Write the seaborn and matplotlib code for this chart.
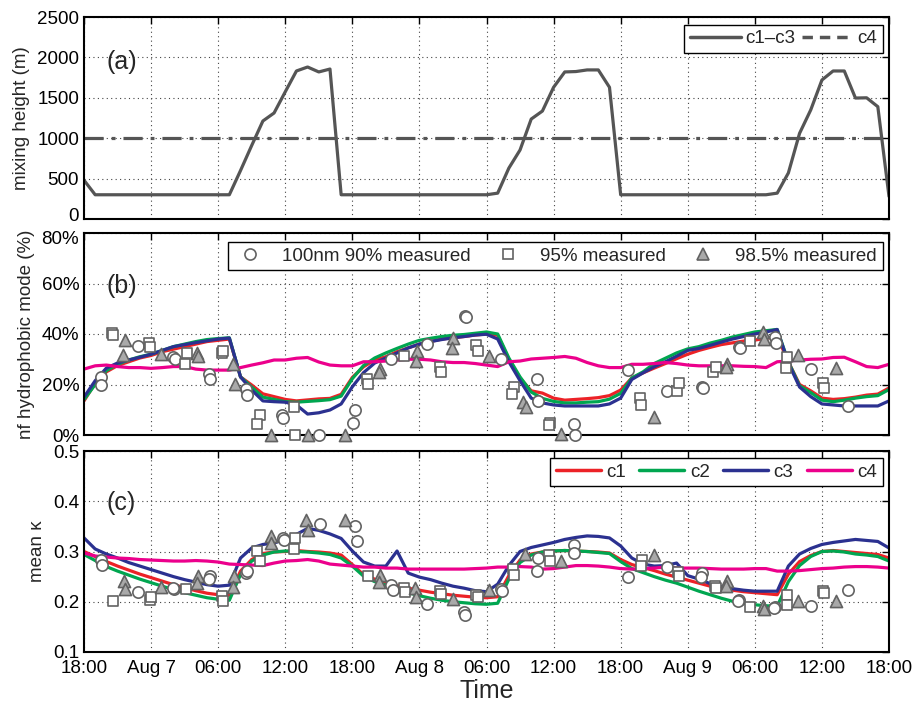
import numpy as np
import pandas as pd
import matplotlib
matplotlib.use("Agg")
import matplotlib.pyplot as plt
import matplotlib.transforms as mtransforms
from matplotlib.lines import Line2D
import seaborn as sns

# ---------------- data ----------------
hours = list(range(73))  # hours since 18:00 Aug 6
tick_hours = [0, 6, 12, 18, 24, 30, 36, 42, 48, 54, 60, 66, 72]
tick_labels = ["18:00", "Aug 7", "06:00", "12:00", "18:00", "Aug 8", "06:00",
               "12:00", "18:00", "Aug 9", "06:00", "12:00", "18:00"]

mixing_height = [480, 300, 300, 300, 300, 300, 300, 300, 300, 300,
                 300, 300, 300, 300, 600, 910, 1213, 1312, 1574, 1832,
                 1881, 1820, 1856, 300, 300, 300, 300, 300, 300, 300,
                 300, 300, 300, 300, 300, 300, 300, 320, 630, 854,
                 1237, 1336, 1630, 1820, 1825, 1845, 1845, 1630, 300, 300,
                 300, 300, 300, 300, 300, 300, 300, 300, 300, 300,
                 300, 300, 320, 570, 1060, 1350, 1720, 1832, 1832, 1497,
                 1500, 1390, 280]
mixing_height_c4 = 1000

nf_c1 = [13.5, 20.5, 25.0, 27.5, 29.0, 30.5, 31.5, 33.0, 34.0, 35.0,
         36.0, 37.0, 37.5, 38.0, 23.0, 19.8, 16.3, 15.2, 14.1, 13.5,
         13.9, 14.3, 14.5, 16.1, 22.8, 27.0, 29.7, 31.0, 33.0, 34.5,
         36.0, 37.0, 38.0, 38.5, 39.0, 39.6, 40.0, 39.5, 30.0, 22.5,
         17.5, 16.6, 14.6, 13.8, 14.1, 14.4, 14.8, 15.6, 17.8, 22.6,
         24.6, 26.5, 28.3, 30.2, 32.0, 33.5, 34.7, 35.8, 36.5, 37.2,
         37.6, 38.3, 39.0, 29.0, 20.0, 17.5, 14.6, 14.1, 14.4, 15.0,
         15.8, 16.2, 18.6]
nf_c2 = [14.0, 20.0, 25.5, 28.0, 29.7, 31.0, 32.0, 33.5, 35.0, 36.0,
         37.0, 37.8, 38.2, 38.5, 23.0, 19.0, 15.0, 14.1, 13.2, 13.0,
         13.3, 13.6, 14.0, 15.4, 22.3, 27.5, 30.5, 32.5, 34.3, 36.0,
         37.5, 38.3, 39.0, 39.5, 39.8, 40.3, 40.8, 40.0, 30.5, 23.0,
         17.0, 14.5, 13.3, 12.7, 12.7, 13.0, 13.2, 14.2, 16.5, 22.6,
         25.0, 28.3, 30.4, 32.5, 34.1, 35.0, 36.4, 37.5, 38.8, 39.8,
         40.8, 41.3, 41.8, 29.0, 19.5, 16.8, 13.8, 13.2, 13.8, 14.6,
         15.2, 15.6, 18.0]
nf_c3 = [15.0, 21.5, 26.5, 28.5, 29.7, 30.8, 32.0, 33.5, 35.0, 35.8,
         36.6, 37.3, 38.0, 38.4, 23.0, 17.8, 13.5, 13.2, 13.0, 11.9,
         8.3, 8.8, 9.9, 12.3, 19.1, 24.7, 28.5, 30.5, 32.5, 34.5,
         36.0, 37.0, 37.8, 38.5, 39.0, 39.6, 39.9, 38.0, 29.0, 21.5,
         14.6, 12.7, 11.9, 11.5, 11.5, 11.5, 11.5, 12.3, 14.6, 22.0,
         24.6, 27.0, 29.0, 31.2, 33.5, 34.3, 35.5, 36.8, 38.0, 39.0,
         40.0, 40.8, 41.8, 28.5, 19.0, 15.2, 12.3, 11.9, 11.5, 11.5,
         11.5, 11.5, 13.5]
nf_c4 = [26.1, 27.4, 27.7, 27.1, 26.7, 26.7, 26.4, 26.7, 27.1, 27.1,
         26.1, 25.7, 25.7, 25.7, 26.7, 27.7, 28.6, 29.7, 29.7, 30.4,
         30.7, 28.9, 27.7, 27.4, 27.4, 29.0, 29.0, 29.3, 29.7, 30.0,
         30.0, 29.7, 29.0, 28.7, 28.7, 28.3, 27.7, 27.1, 29.0, 29.3,
         30.1, 30.4, 30.7, 31.1, 30.4, 28.7, 27.4, 26.7, 26.7, 28.0,
         28.0, 28.3, 28.7, 28.3, 27.7, 27.4, 27.4, 27.4, 27.4, 27.2,
         27.1, 26.7, 29.0, 29.3, 29.7, 30.0, 30.1, 30.7, 30.8, 29.0,
         27.1, 26.7, 28.0]

kappa_c1 = [.300, .290, .280, .271, .263, .255, .248, .241, .234, .228,
            .222, .217, .214, .213, .261, .284, .296, .299, .300, .302,
            .300, .299, .297, .293, .274, .254, .245, .238, .232, .227,
            .223, .219, .216, .213, .211, .209, .208, .210, .252, .283,
            .295, .299, .301, .302, .301, .300, .299, .297, .284, .274,
            .268, .262, .255, .249, .243, .237, .231, .226, .223, .220,
            .218, .216, .214, .255, .280, .292, .300, .302, .300, .298,
            .296, .294, .287]
kappa_c2 = [.294, .282, .270, .261, .253, .245, .238, .231, .224, .218,
            .213, .208, .205, .203, .254, .281, .293, .299, .301, .300,
            .299, .297, .294, .287, .271, .251, .240, .233, .226, .218,
            .212, .207, .203, .200, .198, .196, .195, .197, .245, .278,
            .293, .299, .301, .302, .301, .300, .298, .296, .280, .266,
            .258, .250, .243, .237, .229, .221, .214, .207, .201, .197,
            .194, .192, .191, .240, .272, .290, .300, .301, .299, .295,
            .293, .290, .281]
kappa_c3 = [.327, .305, .295, .287, .278, .271, .264, .257, .250, .244,
            .239, .234, .231, .233, .287, .307, .314, .317, .324, .334,
            .346, .342, .335, .326, .301, .279, .271, .271, .301, .257,
            .249, .244, .237, .231, .227, .222, .220, .235, .272, .300,
            .308, .313, .318, .324, .328, .331, .330, .327, .311, .287,
            .275, .271, .272, .277, .252, .245, .236, .230, .226, .223,
            .221, .221, .221, .271, .295, .306, .314, .318, .321, .324,
            .322, .320, .307]
kappa_c4 = [.297, .291, .289, .287, .286, .284, .283, .282, .281, .281,
            .282, .281, .279, .275, .274, .273, .272, .277, .281, .282,
            .284, .281, .275, .273, .271, .269, .269, .267, .267, .265,
            .265, .265, .265, .265, .265, .266, .267, .269, .269, .270,
            .269, .265, .266, .269, .272, .272, .271, .269, .266, .265,
            .266, .267, .269, .267, .267, .267, .266, .265, .265, .265,
            .266, .266, .261, .261, .262, .264, .266, .267, .269, .270,
            .270, .269, .267]

# measured points: nf hydrophobic mode (%)
nf90_t = [1.5, 1.5, 4.8, 8.0, 8.1, 11.2, 11.3, 14.5, 14.6, 17.7, 17.8, 21.0, 24.2, 24.1,
          27.5, 30.7, 34.1, 34.2, 37.3, 40.5, 40.6, 43.8, 43.9, 48.7, 52.1, 55.3, 55.4,
          58.6, 58.7, 61.8, 61.9, 65.0, 68.3]
nf90_v = [23.1, 19.8, 35.2, 31.0, 30.0, 24.2, 22.2, 18.1, 15.7, 7.9, 6.6, 0.0, 9.9, 4.9,
          30.0, 36.0, 47.1, 46.6, 30.0, 22.0, 13.5, 4.2, 0.0, 25.7, 17.4, 19.1, 18.5,
          35.0, 34.5, 38.9, 36.3, 26.0, 11.5]
nf95_t = [2.5, 2.6, 5.8, 5.9, 9.2, 9.0, 12.3, 12.4, 15.7, 15.5, 18.8, 18.9, 25.3, 25.4,
          28.6, 31.8, 31.9, 35.1, 35.2, 38.5, 38.3, 41.7, 41.6, 49.7, 49.8, 53.0, 53.2,
          56.3, 56.5, 59.6, 62.9, 62.8, 66.1, 66.2]
nf95_v = [40.5, 39.8, 36.3, 35.0, 32.3, 28.1, 32.3, 33.4, 7.9, 4.4, 11.0, 0.0, 22.0, 20.1,
          31.4, 26.8, 25.1, 35.6, 33.4, 18.9, 16.1, 4.9, 4.0, 14.5, 11.9, 17.6, 20.7,
          25.1, 26.8, 37.3, 31.0, 26.4, 20.7, 18.5]
nf985_t = [3.7, 3.5, 6.9, 10.1, 10.2, 13.3, 13.5, 16.7, 20.0, 23.3, 26.5, 26.4, 29.8, 29.7,
           33.0, 32.9, 36.2, 39.3, 39.5, 42.7, 51.0, 57.5, 57.4, 60.7, 60.8, 63.9, 67.3]
nf985_v = [37.6, 31.7, 32.1, 32.3, 31.2, 28.1, 20.2, 0.0, 0.0, 0.0, 26.0, 24.8, 33.3, 29.4,
           38.5, 34.6, 31.3, 13.2, 11.0, 0.3, 7.3, 28.1, 26.8, 40.7, 37.9, 31.7, 26.4]

# measured points: mean kappa
k90_t = [1.5, 1.6, 4.8, 8.05, 8.0, 11.3, 11.2, 14.5, 14.6, 17.8, 17.9, 21.1, 24.2, 24.4,
         27.5, 27.6, 30.7, 34.0, 34.1, 37.3, 37.4, 40.6, 40.5, 43.8, 43.8, 48.7, 52.1,
         55.3, 55.2, 58.6, 58.5, 61.8, 61.7, 65.0, 68.3]
k90_v = [.284, .274, .220, .226, .228, .251, .245, .257, .262, .327, .322, .354, .350, .321,
         .234, .224, .196, .180, .173, .226, .221, .287, .262, .313, .297, .249, .269,
         .257, .249, .203, .202, .189, .187, .192, .223]
k95_t = [2.6, 5.9, 5.95, 9.15, 12.3, 12.4, 15.5, 15.7, 18.9, 18.8, 25.4, 28.6, 28.7, 31.8,
         31.9, 35.1, 35.2, 38.4, 38.5, 41.6, 41.7, 49.9, 49.8, 53.1, 53.2, 56.4, 56.5,
         59.6, 62.85, 62.9, 66.1, 66.2]
k95_v = [.201, .204, .210, .226, .211, .201, .301, .281, .326, .304, .251, .228, .220, .222,
         .216, .214, .209, .266, .254, .294, .281, .284, .271, .259, .251, .231, .227,
         .190, .213, .193, .222, .218]
k985_t = [3.6, 3.7, 6.9, 10.2, 10.1, 13.4, 13.3, 16.75, 16.7, 19.9, 20.0, 23.3, 26.5, 26.4,
          29.6, 29.7, 33.0, 36.25, 39.45, 42.7, 51.0, 57.5, 57.4, 60.7, 60.8, 63.9, 67.3]
k985_v = [.242, .225, .229, .251, .237, .251, .229, .331, .317, .362, .342, .362, .253, .239,
          .228, .209, .206, .224, .295, .282, .293, .241, .231, .191, .185, .201, .202]

case_names = ["c1", "c2", "c3", "c4"]
case_colors = {"c1": "#EC2227", "c2": "#00A650", "c3": "#2B3190", "c4": "#EC008C"}
gray_line = "#555555"
mk_edge = "#626262"
tri_face = "#a9a9a9"

# ---------------- style ----------------
sns.set_theme(style="white")
plt.rcParams["font.family"] = ["Liberation Sans", "DejaVu Sans"]
FS = 13.5

fig = plt.figure(figsize=(9.14, 7.02), dpi=100)
L, W = 84 / 914, 805 / 914


def pos(top, bottom):
    return [L, 1 - bottom / 702, W, (bottom - top) / 702]


ax_a = fig.add_axes(pos(17, 219))
ax_b = fig.add_axes(pos(233, 435))
ax_c = fig.add_axes(pos(451, 652))

# ---- panel (a)
sns.lineplot(x=hours, y=mixing_height, ax=ax_a, color=gray_line, lw=2.3)
sns.lineplot(x=[hours[0], hours[-1]], y=[mixing_height_c4, mixing_height_c4], ax=ax_a,
             color=gray_line, lw=2.3, dashes=False)
ax_a.lines[-1].set_linestyle((0, (6, 2.5, 1.2, 2.5)))
ax_a.set_ylim(0, 2500)
ax_a.set_yticks([0, 500, 1000, 1500, 2000, 2500])
ax_a.set_ylabel("mixing height (m)", fontsize=FS, labelpad=5)
h_a = [Line2D([], [], color=gray_line, lw=2.5, ls="-"),
       Line2D([], [], color=gray_line, lw=2.5, ls=(0, (3, 2)))]
ax_a.legend(h_a, ["c1\u2013c3", "c4"], ncol=2, loc="upper right",
            bbox_to_anchor=(0.992, 0.962), borderaxespad=0, fontsize=FS,
            handlelength=2.7, handletextpad=0.25, columnspacing=0.35,
            borderpad=0.3, fancybox=False, framealpha=1, edgecolor="black")

# ---- panel (b)
df_b = pd.DataFrame({"hour": hours * 4,
                     "value": nf_c1 + nf_c2 + nf_c3 + nf_c4,
                     "case": sum([[c] * len(hours) for c in case_names], [])})
sns.lineplot(data=df_b, x="hour", y="value", hue="case", palette=case_colors,
             lw=2.3, ax=ax_b, legend=False)
sns.scatterplot(x=nf90_t, y=nf90_v, ax=ax_b, marker="o", s=66, facecolor="white",
                edgecolor=mk_edge, linewidth=1.2, clip_on=False, zorder=5)
sns.scatterplot(x=nf95_t, y=nf95_v, ax=ax_b, marker="s", s=44, facecolor="white",
                edgecolor=mk_edge, linewidth=1.2, clip_on=False, zorder=5)
sns.scatterplot(x=nf985_t, y=nf985_v, ax=ax_b, marker="^", s=76, facecolor=tri_face,
                edgecolor=mk_edge, linewidth=1.2, clip_on=False, zorder=5)
ax_b.set_ylim(0, 80)
ax_b.set_yticks([0, 20, 40, 60, 80])
ax_b.set_yticklabels([f"{v}%" for v in [0, 20, 40, 60, 80]])
ax_b.set_ylabel("nf hydrophobic mode (%)", fontsize=FS, labelpad=5)
h_b = [Line2D([], [], ls="none", marker="o", ms=8, mfc="white", mec=mk_edge, mew=1.2),
       Line2D([], [], ls="none", marker="s", ms=6.5, mfc="white", mec=mk_edge, mew=1.2),
       Line2D([], [], ls="none", marker="^", ms=8.5, mfc=tri_face, mec=mk_edge, mew=1.2)]
ax_b.legend(h_b, ["100nm 90% measured", "95% measured", "98.5% measured"], ncol=3,
            loc="upper right", bbox_to_anchor=(0.992, 0.955), borderaxespad=0,
            fontsize=FS, handlelength=1.8, handletextpad=0.8, columnspacing=1.1,
            borderpad=0.3, fancybox=False, framealpha=1, edgecolor="black")

# ---- panel (c)
df_c = pd.DataFrame({"hour": hours * 4,
                     "value": kappa_c1 + kappa_c2 + kappa_c3 + kappa_c4,
                     "case": sum([[c] * len(hours) for c in case_names], [])})
sns.lineplot(data=df_c, x="hour", y="value", hue="case", palette=case_colors,
             lw=2.3, ax=ax_c, legend=False)
sns.scatterplot(x=k90_t, y=k90_v, ax=ax_c, marker="o", s=66, facecolor="white",
                edgecolor=mk_edge, linewidth=1.2, clip_on=False, zorder=5)
sns.scatterplot(x=k95_t, y=k95_v, ax=ax_c, marker="s", s=44, facecolor="white",
                edgecolor=mk_edge, linewidth=1.2, clip_on=False, zorder=5)
sns.scatterplot(x=k985_t, y=k985_v, ax=ax_c, marker="^", s=76, facecolor=tri_face,
                edgecolor=mk_edge, linewidth=1.2, clip_on=False, zorder=5)
ax_c.set_ylim(0.1, 0.5)
ax_c.set_yticks([0.1, 0.2, 0.3, 0.4, 0.5])
ax_c.set_yticklabels(["0.1", "0.2", "0.3", "0.4", "0.5"])
ax_c.set_ylabel("mean \u03ba", fontsize=FS, labelpad=5)
h_c = [Line2D([], [], color=case_colors[c], lw=2.5) for c in case_names]
ax_c.legend(h_c, case_names, ncol=4, loc="upper right", bbox_to_anchor=(0.992, 0.965),
            borderaxespad=0, fontsize=FS, handlelength=2.4, handletextpad=0.3,
            columnspacing=0.7, borderpad=0.3, fancybox=False, framealpha=1,
            edgecolor="black")

# ---- common formatting
for ax, lab, ly in [(ax_a, "(a)", 0.777), (ax_b, "(b)", 0.738), (ax_c, "(c)", 0.741)]:
    ax.set_xlim(0, 72)
    ax.set_xticks(tick_hours)
    ax.grid(True, linestyle=(0, (1, 3)), color="#444444", linewidth=0.8)
    ax.tick_params(direction="in", top=True, right=True, length=5, width=1,
                   labelsize=FS, colors="black")
    ax.tick_params(axis="x", pad=6)
    for s in ax.spines.values():
        s.set_visible(True)
        s.set_linewidth(1.5)
        s.set_color("black")
    ax.text(0.028, ly, lab, transform=ax.transAxes, fontsize=18, va="center", ha="left")
    ax.set_xlabel("")
    ax.get_legend().get_frame().set_linewidth(1.0)

ax_a.tick_params(labelbottom=False)
ax_b.tick_params(labelbottom=False)
# nudge the lowest label of (a) and the top label of (b) slightly apart
lab0 = ax_a.get_yticklabels()[0]
lab0.set_transform(lab0.get_transform() + mtransforms.ScaledTranslation(0, 3 / 72, fig.dpi_scale_trans))
lab80 = ax_b.get_yticklabels()[-1]
lab80.set_transform(lab80.get_transform() + mtransforms.ScaledTranslation(0, -3 / 72, fig.dpi_scale_trans))
ax_c.set_xticklabels(tick_labels)
ax_c.set_xlabel("Time", fontsize=18, labelpad=1)

fig.savefig("out.png", dpi=100)
